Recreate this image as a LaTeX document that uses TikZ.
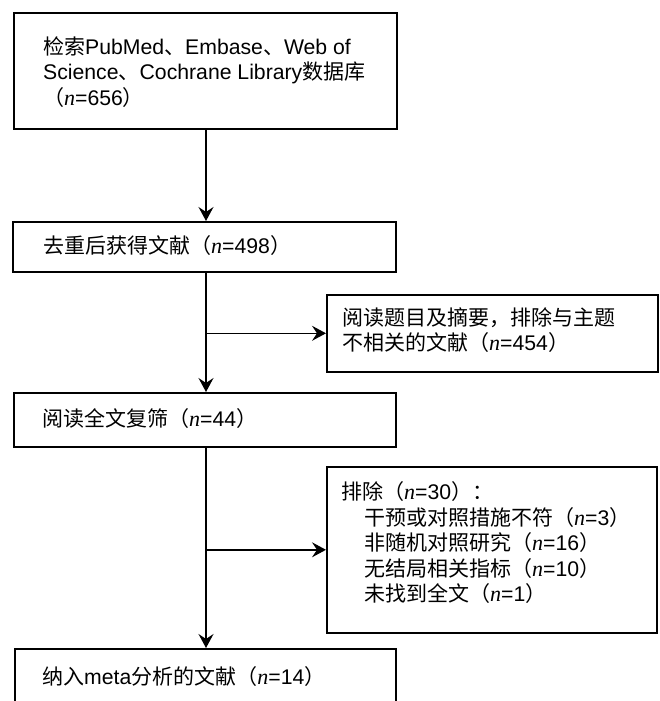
\documentclass[tikz,border=0pt]{standalone}
\usepackage{fontspec}
\setmainfont{Liberation Sans}[Scale=1.01]
\newfontfamily\zhfont{Noto Sans CJK SC}
\newfontfamily\serifit{Liberation Serif}[Scale=1.05]
\newcommand\zh[1]{{\zhfont #1}}
\newcommand\nvar{{\serifit\itshape n}}
\usetikzlibrary{arrows.meta}
\begin{document}
\begin{tikzpicture}[x=1pt,y=-1pt,
  boxst/.style={draw, line width=1.6pt, inner sep=0pt, anchor=north west},
  txt/.style={anchor=west, align=left, inner sep=0pt, font=\fontsize{21pt}{25.5pt}\selectfont},
  conn/.style={line width=1.5pt, -{Stealth[length=14pt,width=15pt,inset=5pt]}}]
\useasboundingbox (0,0) rectangle (660,701);
\clip (0,0) rectangle (660,701);
\fill[white] (0,0) rectangle (660,701);
% boxes
\node[boxst, minimum width=383pt, minimum height=116pt] (b1) at (13,12) {};
\node[boxst, minimum width=383pt, minimum height=50pt] (b2) at (12,221) {};
\node[boxst, minimum width=331pt, minimum height=77pt] (b3) at (326,294) {};
\node[boxst, minimum width=382pt, minimum height=54pt] (b4) at (13,392) {};
\node[boxst, minimum width=330pt, minimum height=166pt] (b5) at (326,466) {};
\node[boxst, minimum width=381pt, minimum height=58pt] (b6) at (14,648) {};
% texts
\node[txt] (t1) at (43,72) {\zh{检索}PubMed\zh{、}Embase\zh{、}Web of\\Science\zh{、}Cochrane Library\zh{数据库}\\\zh{（}\nvar=656\zh{）}};
\node[txt] (t2) at (43,246) {\zh{去重后获得文献（}\nvar=498\zh{）}};
\node[txt] (t3) at (342,330) {\zh{阅读题目及摘要，排除与主题}\\\zh{不相关的文献（}\nvar=454\zh{）}};
\node[txt] (t4) at (42,419) {\zh{阅读全文复筛（}\nvar=44\zh{）}};
\node[txt] (t5) at (341,543) {\zh{排除（}\nvar=30\zh{）：}\\
  \hspace*{23pt}\zh{干预或对照措施不符（}\nvar=3\zh{）}\\
  \hspace*{23pt}\zh{非随机对照研究（}\nvar=16\zh{）}\\
  \hspace*{23pt}\zh{无结局相关指标（}\nvar=10\zh{）}\\
  \hspace*{23pt}\zh{未找到全文（}\nvar=1\zh{）}};
\node[txt] (t6) at (42,677) {\zh{纳入}meta\zh{分析的文献（}\nvar=14\zh{）}};
% connectors
\coordinate (axis) at (206,0);
\draw[conn] (b1.south -| axis) -- (b2.north -| axis);
\draw[conn] (b2.south -| axis) -- (b4.north -| axis);
\draw[conn] (b3.west -| axis) -- (b3.west);
\draw[conn] (b4.south -| axis) -- (b6.north -| axis);
\draw[conn] (b5.west -| axis) -- (b5.west);
\end{tikzpicture}
\end{document}
